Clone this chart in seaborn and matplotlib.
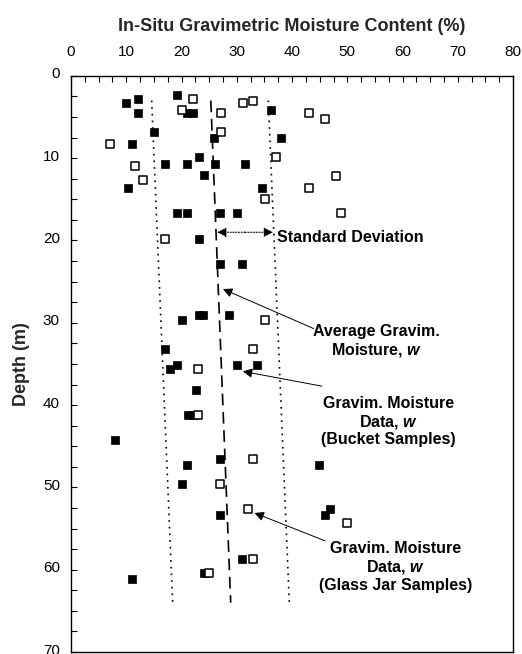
import matplotlib
matplotlib.use("Agg")
import matplotlib.pyplot as plt
import seaborn as sns
import numpy as np
import pandas as pd
from matplotlib.ticker import MultipleLocator
from matplotlib.transforms import ScaledTranslation

# ---- data ----
bucket_w = [10.0, 12.1, 12.1, 19.1, 21.0, 22.1, 15.1, 11.1, 25.9, 17.1, 21.0, 23.1, 26.0, 31.4,
            24.0, 10.3, 34.6, 19.2, 21.0, 27.0, 30.0, 23.1, 36.1, 38.0,
            27.0, 31.0, 20.1, 23.2, 23.9, 28.6, 17.1, 19.1, 18.0, 30.0, 33.6, 22.7, 21.1, 22.1, 8.0,
            27.0, 21.0, 44.9, 20.0, 27.0, 46.9, 45.9, 31.0, 24.1, 11.0]
bucket_depth = [3.3, 2.8, 4.5, 2.3, 4.5, 4.5, 6.8, 8.3, 7.6, 10.7, 10.7, 9.9, 10.7, 10.7,
                12.1, 13.6, 13.6, 16.7, 16.7, 16.7, 16.7, 19.8, 4.1, 7.6,
                22.8, 22.8, 29.6, 29.0, 29.0, 29.0, 33.2, 35.1, 35.6, 35.1, 35.1, 38.2, 41.2, 41.2, 44.2,
                46.5, 47.3, 47.3, 49.6, 53.4, 52.6, 53.4, 58.7, 60.4, 61.1]

jar_w = [22.1, 20.1, 27.1, 31.1, 33.0, 43.0, 46.0, 27.1, 7.1, 37.1, 11.5, 13.0, 43.0, 35.1, 48.0,
         48.9, 17.1, 35.1, 33.0, 23.0, 23.0, 33.0, 27.0, 32.0, 33.0, 25.0, 49.9]
jar_depth = [2.8, 4.1, 4.5, 3.3, 3.1, 4.5, 5.3, 6.8, 8.3, 9.9, 10.9, 12.7, 13.6, 14.9, 12.2,
             16.7, 19.8, 29.6, 33.2, 35.6, 41.2, 46.5, 49.6, 52.6, 58.7, 60.4, 54.3]

avg_w = [25.3, 28.9]
avg_depth = [3.0, 64.0]
sd_low_w = [14.6, 18.4]
sd_high_w = [35.7, 39.5]

x_ticks = [0, 10, 20, 30, 40, 50, 60, 70, 80]
y_ticks = [0, 10, 20, 30, 40, 50, 60, 70]

# ---- plot ----
sns.set_style("white")
plt.rcParams['font.family'] = ['Liberation Sans', 'DejaVu Sans']
plt.rcParams['mathtext.fontset'] = 'custom'
plt.rcParams['mathtext.rm'] = 'Liberation Sans'
plt.rcParams['mathtext.it'] = 'Liberation Sans:italic'
plt.rcParams['mathtext.bf'] = 'Liberation Sans:bold'
plt.rcParams['mathtext.bfit'] = 'Liberation Sans:italic:bold'

fig = plt.figure(figsize=(5.22, 6.54), dpi=100)
ax = fig.add_axes([0.136, 0.003, 0.847, 0.881])

df_b = pd.DataFrame({"w": bucket_w, "depth": bucket_depth})
df_j = pd.DataFrame({"w": jar_w, "depth": jar_depth})

sns.scatterplot(data=df_b, x="w", y="depth", ax=ax, marker="s", s=40,
                color="black", edgecolor="black", linewidth=0.5, zorder=3)
sns.scatterplot(data=df_j, x="w", y="depth", ax=ax, marker="s", s=30,
                facecolor="white", edgecolor="black", linewidth=1.1, zorder=4)

sns.lineplot(x=avg_w, y=avg_depth, ax=ax, sort=False, estimator=None, color="black",
             linewidth=1.2, linestyle=(0, (7, 4)))
sns.lineplot(x=sd_low_w, y=avg_depth, ax=ax, sort=False, estimator=None, color="black",
             linewidth=1.2, linestyle=(0, (1, 3)))
sns.lineplot(x=sd_high_w, y=avg_depth, ax=ax, sort=False, estimator=None, color="black",
             linewidth=1.2, linestyle=(0, (1, 3)))

ax.set_xlim(0, 80)
ax.set_ylim(70, 0)
ax.xaxis.set_ticks_position("top")
ax.xaxis.set_label_position("top")
ax.set_xticks(x_ticks)
ax.set_yticks(y_ticks)
ax.xaxis.set_minor_locator(MultipleLocator(2.5))
ax.yaxis.set_minor_locator(MultipleLocator(2.5))
ax.tick_params(axis="both", which="both", direction="in", length=4, width=0.8,
               labelsize=11, colors="black")
ax.tick_params(axis="x", which="both", top=True, bottom=False, pad=12)
ax.tick_params(axis="y", which="both", left=True, right=False, pad=8)
for lab in ax.get_yticklabels():
    lab.set_transform(lab.get_transform() + ScaledTranslation(0, 3 / 100, fig.dpi_scale_trans))
for s in ax.spines.values():
    s.set_visible(True)
    s.set_color("black")
    s.set_linewidth(1.0)

ax.set_xlabel("In-Situ Gravimetric Moisture Content (%)", fontsize=13, fontweight="bold", labelpad=10)
ax.set_ylabel("Depth (m)", fontsize=13, fontweight="bold", labelpad=9)

tkw = dict(fontsize=11.5, fontweight="bold", color="black")
aprops = dict(arrowstyle="-|>", color="black", lw=0.7, mutation_scale=14, shrinkA=0, shrinkB=0)

# Standard deviation double arrow (dotted)
ax.annotate("", xy=(26.4, 19.0), xytext=(31.5, 19.0),
            arrowprops=dict(arrowstyle="-|>", color="black", lw=0.8, ls=(0, (1, 1.5)),
                            mutation_scale=14, shrinkA=0, shrinkB=0))
ax.annotate("", xy=(36.6, 19.0), xytext=(31.5, 19.0),
            arrowprops=dict(arrowstyle="-|>", color="black", lw=0.8, ls=(0, (1, 1.5)),
                            mutation_scale=14, shrinkA=0, shrinkB=0))
ax.text(37.3, 19.6, "Standard Deviation", ha="left", va="center", **tkw)

ax.annotate("", xy=(27.5, 25.9), xytext=(43.9, 30.7), arrowprops=aprops)
ax.text(55.2, 32.3, "Average Gravim.\nMoisture, $\\boldsymbol{w}$", ha="center", va="center",
        linespacing=1.15, **tkw)

ax.annotate("", xy=(31.1, 35.9), xytext=(45.4, 37.7), arrowprops=aprops)
ax.text(57.4, 42.0, "Gravim. Moisture\nData, $\\boldsymbol{w}$\n(Bucket Samples)", ha="center",
        va="center", linespacing=1.15, **tkw)

ax.annotate("", xy=(33.2, 53.1), xytext=(46.0, 56.5), arrowprops=aprops)
ax.text(58.7, 59.7, "Gravim. Moisture\nData, $\\boldsymbol{w}$\n(Glass Jar Samples)", ha="center",
        va="center", linespacing=1.15, **tkw)

fig.savefig("out.png", dpi=100)
